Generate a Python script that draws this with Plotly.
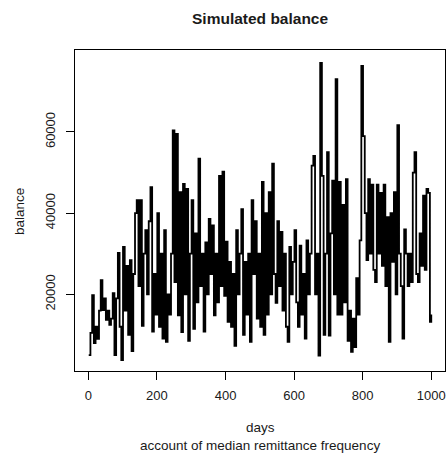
import plotly.graph_objects as go

days = list(range(1, 1000, 5)) + [1000]
balance = [
    5000, 10500, 19800, 8000, 12000, 9000, 16000, 23500, 16100, 19000,
    13700, 16000, 12500, 14000, 20300, 5000, 19000, 30200, 12000, 3800,
    31700, 16000, 27000, 10000, 28400, 6000, 25000, 40000, 43200, 22000,
    43200, 12200, 30000, 35800, 20000, 38000, 46400, 10800, 25000, 15000,
    40000, 12000, 30000, 9100, 35800, 8300, 20000, 15000, 30000, 60400,
    23000, 59500, 14800, 45200, 10700, 47200, 20000, 46000, 8500, 30000,
    43200, 11500, 35000, 18000, 53400, 22000, 30000, 10800, 32800, 20000,
    38600, 25000, 37000, 14800, 30000, 18000, 49200, 22000, 50200, 19600,
    33000, 13200, 28000, 12000, 25000, 7300, 35800, 20000, 30000, 41000,
    10000, 28000, 15000, 30000, 8300, 43200, 25000, 38000, 14000, 30000,
    12000, 47700, 10000, 40000, 15000, 45200, 20000, 52200, 25000, 17900,
    38000, 22000, 35400, 16000, 30000, 12000, 8300, 31700, 20000, 28000,
    35800, 18000, 12000, 32000, 15000, 25000, 9100, 33300, 20000, 30000,
    51700, 54100, 20000, 30000, 4900, 77000, 49200, 10000, 30000, 55000,
    9800, 35000, 48000, 20000, 73000, 15000, 47700, 15000, 42000, 18000,
    48400, 8500, 16000, 5800, 14000, 7000, 24000, 15000, 33300, 76300,
    59000, 40000, 28400, 48400, 30000, 47000, 26000, 23000, 47000, 30000,
    45000, 27000, 47000, 22000, 39000, 8300, 40000, 28000, 45200, 20000,
    61700, 30000, 22000, 9100, 36000, 30000, 22000, 30000, 23000, 50000,
    55000, 25000, 23000, 35000, 27000, 44300, 26000, 46000, 45000, 13200,
    15000,
]

x_ticks = [0, 200, 400, 600, 800, 1000]
y_ticks = [20000, 40000, 60000]

title_text = "Simulated balance"
x_title = "days"
sub_title = "account of median remittance frequency"
y_title = "balance"

FONT = "Liberation Sans, Arial, sans-serif"
TXT = "#1a1a1a"

fig = go.Figure()
fig.add_trace(go.Scatter(
    x=days, y=balance, mode="lines",
    line=dict(color="black", width=1.8, shape="hv"),
    hoverinfo="skip", showlegend=False,
))

axis_common = dict(
    showgrid=False, zeroline=False,
    showline=True, mirror=True, linecolor="black", linewidth=1,
    ticks="outside", ticklen=8, tickwidth=1, tickcolor="black",
    tickfont=dict(family=FONT, size=13, color=TXT),
)

fig.update_layout(
    width=447, height=458,
    margin=dict(l=75, r=2, t=50, b=87),
    paper_bgcolor="white", plot_bgcolor="white",
    xaxis=dict(range=[-39, 1040], tickvals=x_ticks,
               ticktext=[str(v) for v in x_ticks],
               ticklabelstandoff=4, **axis_common),
    yaxis=dict(range=[1100, 80200], tickvals=y_ticks,
               ticktext=[str(v) for v in y_ticks],
               tickangle=-90, ticklabelstandoff=6, **axis_common),
    annotations=[
        dict(text="<b>%s</b>" % title_text, xref="paper", yref="paper",
             x=0.5, y=(371 - 18) / 321, showarrow=False,
             xanchor="center", yanchor="middle",
             font=dict(family=FONT, size=15.5, color=TXT)),
        dict(text=x_title, xref="paper", yref="paper",
             x=0.5, y=(371 - 428) / 321, showarrow=False,
             xanchor="center", yanchor="middle",
             font=dict(family=FONT, size=13.5, color=TXT)),
        dict(text=sub_title, xref="paper", yref="paper",
             x=0.5, y=(371 - 445) / 321, showarrow=False,
             xanchor="center", yanchor="middle",
             font=dict(family=FONT, size=13.5, color=TXT)),
        dict(text=y_title, xref="paper", yref="paper",
             x=(19 - 75) / 370, y=(371 - 212) / 321, showarrow=False,
             xanchor="center", yanchor="middle", textangle=-90,
             font=dict(family=FONT, size=13.5, color=TXT)),
    ],
)

fig.write_html(
    "out.html",
    config={"displayModeBar": False, "staticPlot": True},
    post_script="document.body.style.margin='0px';"
                "document.body.style.overflow='hidden';",
)
